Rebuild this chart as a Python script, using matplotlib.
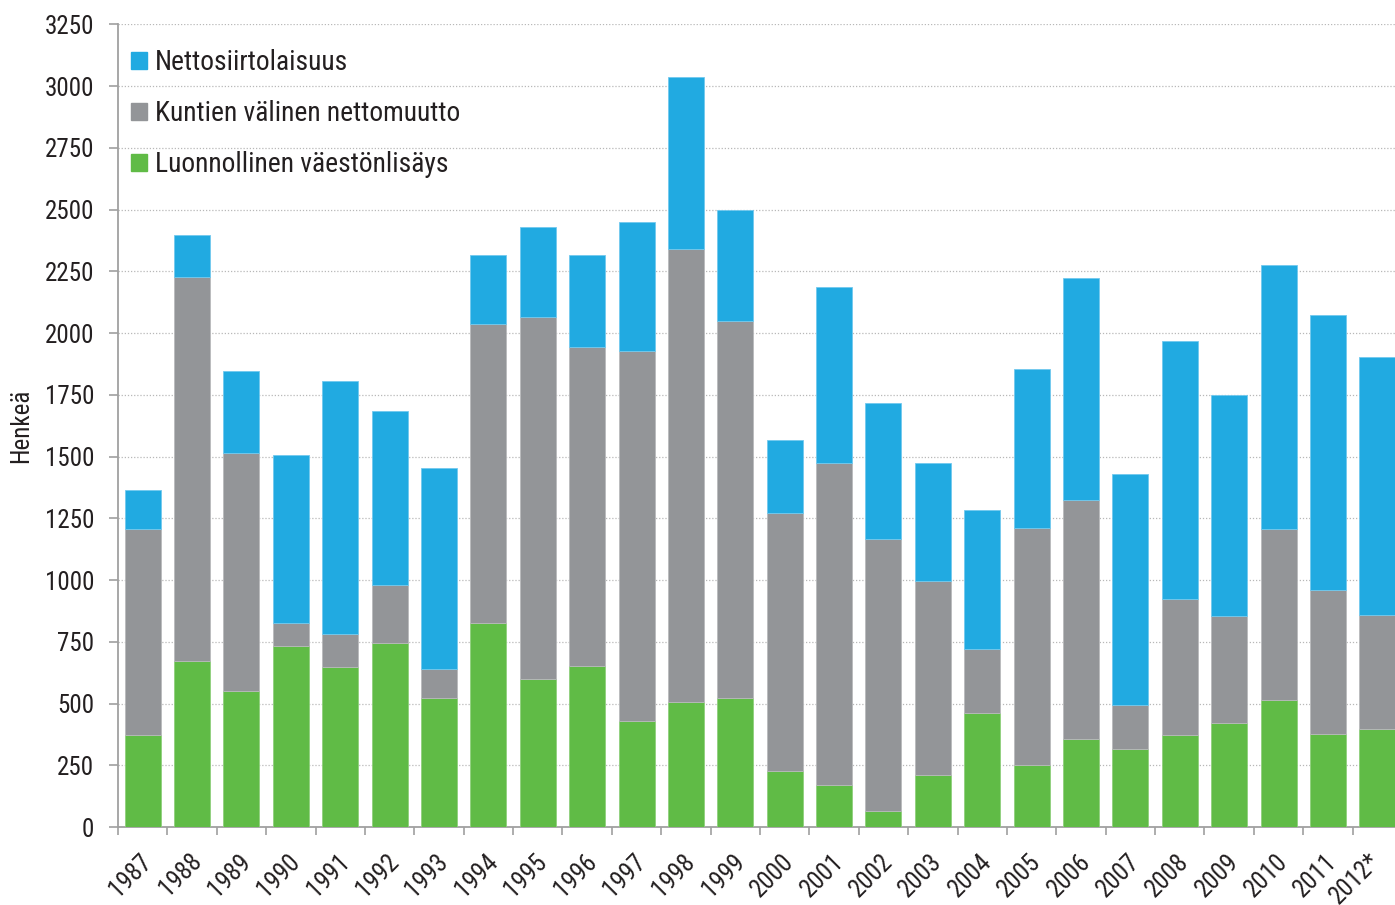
import matplotlib
matplotlib.use("Agg")
import matplotlib.pyplot as plt
import matplotlib.transforms as mtransforms
from matplotlib.patches import Patch
import numpy as np

years = ["1987", "1988", "1989", "1990", "1991", "1992", "1993", "1994", "1995",
         "1996", "1997", "1998", "1999", "2000", "2001", "2002", "2003", "2004",
         "2005", "2006", "2007", "2008", "2009", "2010", "2011", "2012*"]
# Luonnollinen väestönlisäys (green, bottom)
natural = [373, 672, 551, 733, 648, 745, 522, 826, 599, 652, 429, 506, 522,
           227, 170, 65, 211, 462, 251, 356, 316, 373, 421, 514, 377, 397]
# Cumulative top of the grey segment
grey_top = [1207, 2228, 1515, 826, 782, 980, 640, 2037, 2066, 1944, 1928, 2341, 2049,
            1272, 1474, 1166, 996, 721, 1211, 1324, 494, 923, 855, 1207, 960, 859]
# Total (top of blue segment)
total = [1365, 2398, 1847, 1507, 1806, 1685, 1454, 2317, 2430, 2317, 2450, 3038, 2499,
         1567, 2187, 1717, 1474, 1284, 1855, 2223, 1430, 1968, 1750, 2276, 2074, 1904]

internal = [g - n for g, n in zip(grey_top, natural)]   # Kuntien välinen nettomuutto
immigration = [t - g for t, g in zip(total, grey_top)]  # Nettosiirtolaisuus

labels = ["Nettosiirtolaisuus", "Kuntien välinen nettomuutto", "Luonnollinen väestönlisäys"]
c_blue, c_grey, c_green = "#21aae1", "#939598", "#60bb46"

plt.rcParams['font.family'] = ['Roboto Condensed', 'Archivo Narrow', 'DejaVu Sans']
txt = "#231f20"

W, H = 1395, 905
fig = plt.figure(figsize=(W / 100, H / 100), dpi=100)
left, right, top, bottom = 118, 1402, 24.5, 827
ax = fig.add_axes([left / W, (H - bottom) / H, (right - left) / W, (bottom - top) / H])

x = np.arange(len(years))
bw = 0.73
ax.bar(x, natural, bw, color=c_green, edgecolor="#8fd07c", linewidth=0.6, zorder=3)
ax.bar(x, internal, bw, bottom=natural, color=c_grey, edgecolor="#b9babc", linewidth=0.6, zorder=3)
ax.bar(x, immigration, bw, bottom=grey_top, color=c_blue, edgecolor="#72c9ee", linewidth=0.6, zorder=3)

ax.set_xlim(-0.5, len(years) - 0.5)
ax.set_ylim(0, 3250)
ax.set_yticks(np.arange(0, 3251, 250))
ax.yaxis.grid(True, linestyle=(0, (1, 1.5)), color="#b8b8b8", linewidth=0.9, zorder=0)
ax.set_axisbelow(True)

for s in ["top", "right"]:
    ax.spines[s].set_visible(False)
for s in ["left", "bottom"]:
    ax.spines[s].set_color("#a0a0a0")
    ax.spines[s].set_linewidth(1.3)

ax.tick_params(axis="y", direction="out", length=6.5, width=1.2, color="#a0a0a0",
               labelsize=18, labelcolor=txt, pad=10.5)
ax.set_xticks(x)
ax.set_xticklabels(years, rotation=45, ha="right", va="top", rotation_mode="anchor")
ax.tick_params(axis="x", which="major", length=0, labelsize=18, labelcolor=txt, pad=16)
xlabels = ax.get_xticklabels()
for i, lab in enumerate(xlabels):
    dx = -3 if i < len(xlabels) - 1 else -9
    shift = mtransforms.ScaledTranslation(dx / 100, 0, fig.dpi_scale_trans)
    lab.set_transform(lab.get_transform() + shift)
ax.set_xticks(np.arange(-0.5, len(years), 1), minor=True)
ax.tick_params(axis="x", which="minor", direction="out", length=5.8, width=1.2, color="#a0a0a0")

ax.set_ylabel("Henkeä", fontsize=18, color=txt)
ax.yaxis.set_label_coords(-85 / (right - left), 0.5)

handles = [Patch(color=c_blue), Patch(color=c_grey), Patch(color=c_green)]
leg = ax.legend(handles, labels, loc="upper left",
                bbox_to_anchor=(13 / (right - left), 1 - 24.5 / (bottom - top)),
                frameon=False, fontsize=19.8, handlelength=0.58, handleheight=0.58,
                handletextpad=0.3, labelspacing=0.88, borderaxespad=0, borderpad=0,
                labelcolor=txt)

fig.savefig("out.png", dpi=100)
